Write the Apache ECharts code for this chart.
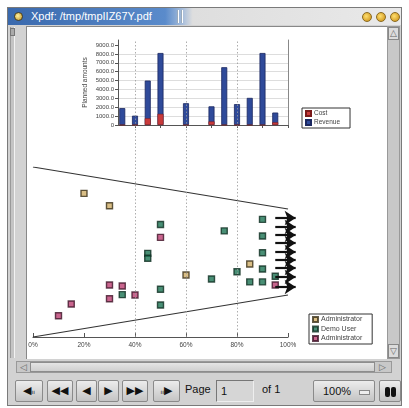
<!DOCTYPE html>
<html><head><meta charset="utf-8">
<script src="https://cdn.jsdelivr.net/npm/echarts@6/dist/echarts.min.js"></script>
<style>
html,body{margin:0;padding:0;width:409px;height:408px;overflow:hidden;background:#fff;font-family:"Liberation Sans",Arial,sans-serif;}
.a{position:absolute;box-sizing:border-box;}
.btn{position:absolute;box-sizing:border-box;top:380px;height:22px;background:linear-gradient(#ececec,#c4c4c4);border:1px solid #8a8a8a;border-radius:2px;color:#111;font-family:"DejaVu Sans",sans-serif;font-size:11px;line-height:20px;text-align:center;}
#chart{position:absolute;left:0;top:0;width:409px;height:408px;}
</style>
</head><body>
<!-- window chrome -->
<div class="a" style="left:7px;top:7px;width:395px;height:399px;background:#d2d2d2;border:1px solid #7a7a7a;"></div>
<div class="a" style="left:8px;top:8px;width:393px;height:17px;background:linear-gradient(to right,#3a69ad 0%,#5a8bcb 40%,#a8bedb 44.5%,#dedede 47%,#e9e9e9 100%);"></div>
<div class="a" style="left:14px;top:12px;width:9px;height:9px;border-radius:50%;background:radial-gradient(circle at 40% 40%,#fff2a0,#c09020);border:1px solid #4a4020;"></div>
<div class="a" style="left:31px;top:9px;font-size:11px;line-height:15px;color:#fff;white-space:nowrap;">Xpdf: /tmp/tmpIIZ67Y.pdf</div>
<div class="a" style="left:177px;top:10px;width:2px;height:13px;border-left:1px solid #9ab;border-right:1px solid #fff;"></div>
<div class="a" style="left:181px;top:10px;width:2px;height:13px;border-left:1px solid #9ab;border-right:1px solid #fff;"></div>
<div class="a" style="left:362px;top:12px;width:10px;height:10px;border-radius:50%;background:radial-gradient(circle at 40% 40%,#ffe070,#c88a10);border:1px solid #8a6a20;"></div>
<div class="a" style="left:376px;top:12px;width:10px;height:10px;border-radius:50%;background:radial-gradient(circle at 40% 40%,#ffe070,#c88a10);border:1px solid #8a6a20;"></div>
<div class="a" style="left:390px;top:12px;width:10px;height:10px;border-radius:50%;background:radial-gradient(circle at 40% 40%,#ffe070,#c88a10);border:1px solid #8a6a20;"></div>
<!-- left gutter -->
<div class="a" style="left:10px;top:27px;width:5px;height:331px;background:#c4c4c4;border-left:1px solid #999;border-right:1px solid #f2f2f2;"></div>
<div class="a" style="left:10px;top:28px;width:5px;height:8px;background:#aaa;border:1px solid #777;"></div>
<!-- page area -->
<div class="a" style="left:26px;top:26px;width:361px;height:333px;background:#fff;border-top:1px solid #888;border-left:1px solid #888;"></div>
<!-- right scrollbar -->
<div class="a" style="left:387px;top:26px;width:13px;height:333px;background:#c8c8c8;border:1px solid #999;"></div>
<div class="a" style="left:388px;top:27px;width:11px;height:13px;background:#dcdcdc;border:1px solid #888;font-size:9px;line-height:11px;text-align:center;color:#666;font-family:'DejaVu Sans';">△</div>
<div class="a" style="left:388px;top:344px;width:11px;height:14px;background:#dcdcdc;border:1px solid #888;font-size:9px;line-height:12px;text-align:center;color:#666;font-family:'DejaVu Sans';">▽</div>
<!-- horizontal scrollbar -->
<div class="a" style="left:16px;top:361px;width:376px;height:12px;background:#c8c8c8;border:1px solid #999;"></div>
<div class="a" style="left:30px;top:362px;width:345px;height:10px;background:linear-gradient(#e4e4e4,#cfcfcf);border:1px solid #8d8d8d;"></div>
<div class="a" style="left:17px;top:362px;width:13px;height:10px;font-size:9px;line-height:10px;text-align:center;color:#666;font-family:'DejaVu Sans';">◁</div>
<div class="a" style="left:376px;top:362px;width:13px;height:10px;font-size:9px;line-height:10px;text-align:center;color:#666;font-family:'DejaVu Sans';">▷</div>
<!-- toolbar -->
<div class="btn" style="left:15px;width:28px;">◀<span style="font-size:6px;">ıı</span></div>
<div class="btn" style="left:47px;width:26px;">◀◀</div>
<div class="btn" style="left:76px;width:21px;">◀</div>
<div class="btn" style="left:98px;width:21px;">▶</div>
<div class="btn" style="left:122px;width:26px;">▶▶</div>
<div class="btn" style="left:153px;width:27px;"><span style="font-size:6px;">ıı</span>▶</div>
<div class="a" style="left:185px;top:383px;font-size:11px;color:#111;">Page</div>
<div class="a" style="left:216px;top:380px;width:38px;height:22px;background:#d6d6d6;border:1px solid #777;border-right-color:#eee;border-bottom-color:#eee;font-size:11px;line-height:20px;padding-left:4px;color:#111;">1</div>
<div class="a" style="left:262px;top:383px;font-size:11px;color:#111;">of 1</div>
<div class="btn" style="left:313px;width:62px;text-align:left;padding-left:9px;font-family:'Liberation Sans';">100%<span style="position:absolute;left:45px;top:9px;width:9px;height:3px;background:#eee;border:1px solid #888;"></span></div>
<div class="btn" style="left:379px;width:22px;"><span style="position:absolute;left:5px;top:6px;width:5px;height:10px;background:#111;border-radius:2px;"></span><span style="position:absolute;left:11px;top:6px;width:5px;height:10px;background:#111;border-radius:2px;"></span></div>

<div id="chart"></div>
<script>
// ---- data ----
const barX = [35, 40, 45, 50, 60, 70, 75, 80, 85, 90, 95];
const revenue = [1900, 1050, 5000, 8100, 2450, 2100, 6500, 2350, 3050, 8100, 1400];
const cost = [0, 0, 750, 1250, 0, 400, 0, 0, 0, 0, 300];
const barYTicks = [0, 1000, 2000, 3000, 4000, 5000, 6000, 7000, 8000, 9000];
const barXTicks = [40, 50, 60, 70, 80, 90, 100];

const adminTan = [[20, 84.5], [30, 77.2], [60, 36.5], [85, 42.9]];
const demoUser = [[35, 24.9], [45, 49.2], [45, 46.3], [50, 66.2], [50, 28.1], [50, 18.8], [70, 34.1], [75, 62.4], [80, 38.4], [85, 32.4], [90, 69.2], [90, 59.4], [90, 49.6], [90, 40.0], [90, 32.4], [95, 35.7]];
const adminPink = [[30, 30.6], [35, 30.0], [40, 24.7], [30, 22.5], [15, 19.4], [10, 12.5], [50, 58.6], [95, 30.6]];
const funnelTop = [[0, 100], [100, 75.3]];
const funnelBottom = [[0, 0], [100, 24.7]];
const arrowY = [70.0, 64.7, 60.0, 55.3, 50.0, 45.3, 40.6, 35.3, 29.4];
const arrowFrom = 95, arrowTo = 103;
const guideX = [40, 60, 80];

const FONT = 'Liberation Sans';
const txt = {fontFamily: FONT, fontSize: 6.5, color: '#444'};

const chart = echarts.init(document.getElementById('chart'), null, {renderer: 'canvas'});
chart.setOption({
  backgroundColor: 'transparent',
  animation: false,
  textStyle: {fontFamily: FONT},
  grid: [
    {left: 118, top: 40, width: 170, height: 85},
    {left: 33, top: 167, width: 255, height: 170},
    {left: 33, top: 40, width: 255, height: 297}
  ],
  legend: [
    {data: ['Cost', 'Revenue'], orient: 'vertical', left: 302, top: 108, icon: 'rect',
     itemWidth: 5, itemHeight: 5, itemGap: 2, padding: [2, 10, 2, 3], borderColor: '#333', borderWidth: 1,
     textStyle: Object.assign({}, txt, {padding: [0, 0, 0, -2]}), selectedMode: false},
    {data: ['Administrator', 'Demo User', 'Administrator '], orient: 'vertical', left: 309, top: 314, icon: 'rect',
     itemWidth: 5, itemHeight: 5, itemGap: 2.5, padding: [2, 8, 2, 3], borderColor: '#333', borderWidth: 1,
     textStyle: Object.assign({}, txt, {fontSize: 7, padding: [0, 0, 0, -2]}), selectedMode: false}
  ],
  xAxis: [
    {gridIndex: 0, type: 'value', min: 33.333, max: 100,
     axisLine: {show: true, onZero: false, lineStyle: {color: '#555'}},
     axisTick: {show: true, length: 3, customValues: barXTicks, lineStyle: {color: '#555'}},
     axisLabel: {show: false}, splitLine: {show: false}},
    {gridIndex: 1, type: 'value', min: 0, max: 100, interval: 20,
     axisLine: {show: true, onZero: false, lineStyle: {color: '#555', width: 1.2}},
     axisTick: {show: true, inside: true, length: 4, lineStyle: {color: '#555'}},
     axisLabel: Object.assign({}, txt, {formatter: '{value}%', margin: 5}),
     splitLine: {show: false}},
    {gridIndex: 2, type: 'value', min: 0, max: 100, show: false}
  ],
  yAxis: [
    {gridIndex: 0, type: 'value', min: 0, max: 9562,
     name: 'Planned amounts', nameLocation: 'middle', nameGap: 29, nameRotate: 90,
     nameTextStyle: Object.assign({}, txt, {fontSize: 6.5}),
     axisLine: {show: true, lineStyle: {color: '#555'}},
     axisTick: {show: true, length: 3, customValues: barYTicks, lineStyle: {color: '#555'}},
     axisLabel: Object.assign({}, txt, {fontSize: 6, margin: 4, customValues: barYTicks,
       formatter: v => v === 0 ? '0' : v.toFixed(1)}),
     splitLine: {show: true, showMaxLine: false, lineStyle: {color: '#d4d4d4', width: 0.8}}},
    {gridIndex: 1, type: 'value', min: 0, max: 100, show: false},
    {gridIndex: 2, type: 'value', min: 0, max: 1, show: false},
    {gridIndex: 0, type: 'value', min: 0, max: 9562, position: 'right',
     axisLine: {show: true, lineStyle: {color: '#888'}}, axisTick: {show: false},
     axisLabel: {show: false}, splitLine: {show: false}}
  ],
  series: [
    {type: 'scatter', xAxisIndex: 2, yAxisIndex: 2, data: guideX.map(x => [x, 0]), symbolSize: 0, silent: true,
     markLine: {silent: true, symbol: ['none', 'none'], label: {show: false},
       lineStyle: {type: [1.5, 2], color: '#999', width: 0.8}, data: guideX.map(x => ({xAxis: x}))}},
    {type: 'bar', name: 'Revenue', xAxisIndex: 0, yAxisIndex: 0, barWidth: 6, barGap: '-100%', z: 2,
     data: barX.map((x, i) => [x, revenue[i]]),
     itemStyle: {color: '#2f4a9a', borderColor: '#1a2760', borderWidth: 0.8}},
    {type: 'bar', name: 'Cost', xAxisIndex: 0, yAxisIndex: 0, barWidth: 6, barGap: '-100%', z: 3,
     data: barX.map((x, i) => [x, cost[i]]),
     itemStyle: {color: '#c93b3b', borderColor: '#7a1a1a', borderWidth: 0.5}},
    {type: 'line', xAxisIndex: 1, yAxisIndex: 1, data: funnelTop, symbol: 'none', silent: true,
     lineStyle: {color: '#333', width: 1.2}},
    {type: 'line', xAxisIndex: 1, yAxisIndex: 1, data: funnelBottom, symbol: 'none', silent: true,
     lineStyle: {color: '#333', width: 1.2}},
    {type: 'scatter', name: 'Administrator', xAxisIndex: 1, yAxisIndex: 1, data: adminTan, symbol: 'rect', symbolSize: 6,
     itemStyle: {color: '#cfae68', borderColor: '#3a2f18', borderWidth: 1.4}},
    {type: 'scatter', name: 'Demo User', xAxisIndex: 1, yAxisIndex: 1, data: demoUser, symbol: 'rect', symbolSize: 6,
     itemStyle: {color: '#1b7352', borderColor: '#0f2e22', borderWidth: 1.4}},
    {type: 'scatter', name: 'Administrator ', xAxisIndex: 1, yAxisIndex: 1, data: adminPink, symbol: 'rect', symbolSize: 6,
     itemStyle: {color: '#bb3f72', borderColor: '#3e1428', borderWidth: 1.4}},
    {type: 'lines', coordinateSystem: 'cartesian2d', xAxisIndex: 1, yAxisIndex: 1, clip: false, z: 5,
     symbol: ['none', 'arrow'], symbolSize: 11, silent: true,
     lineStyle: {color: '#111', width: 2.2, opacity: 1},
     data: arrowY.map(y => ({coords: [[arrowFrom, y], [arrowTo, y]]}))}
  ]
});
</script>
</body></html>
